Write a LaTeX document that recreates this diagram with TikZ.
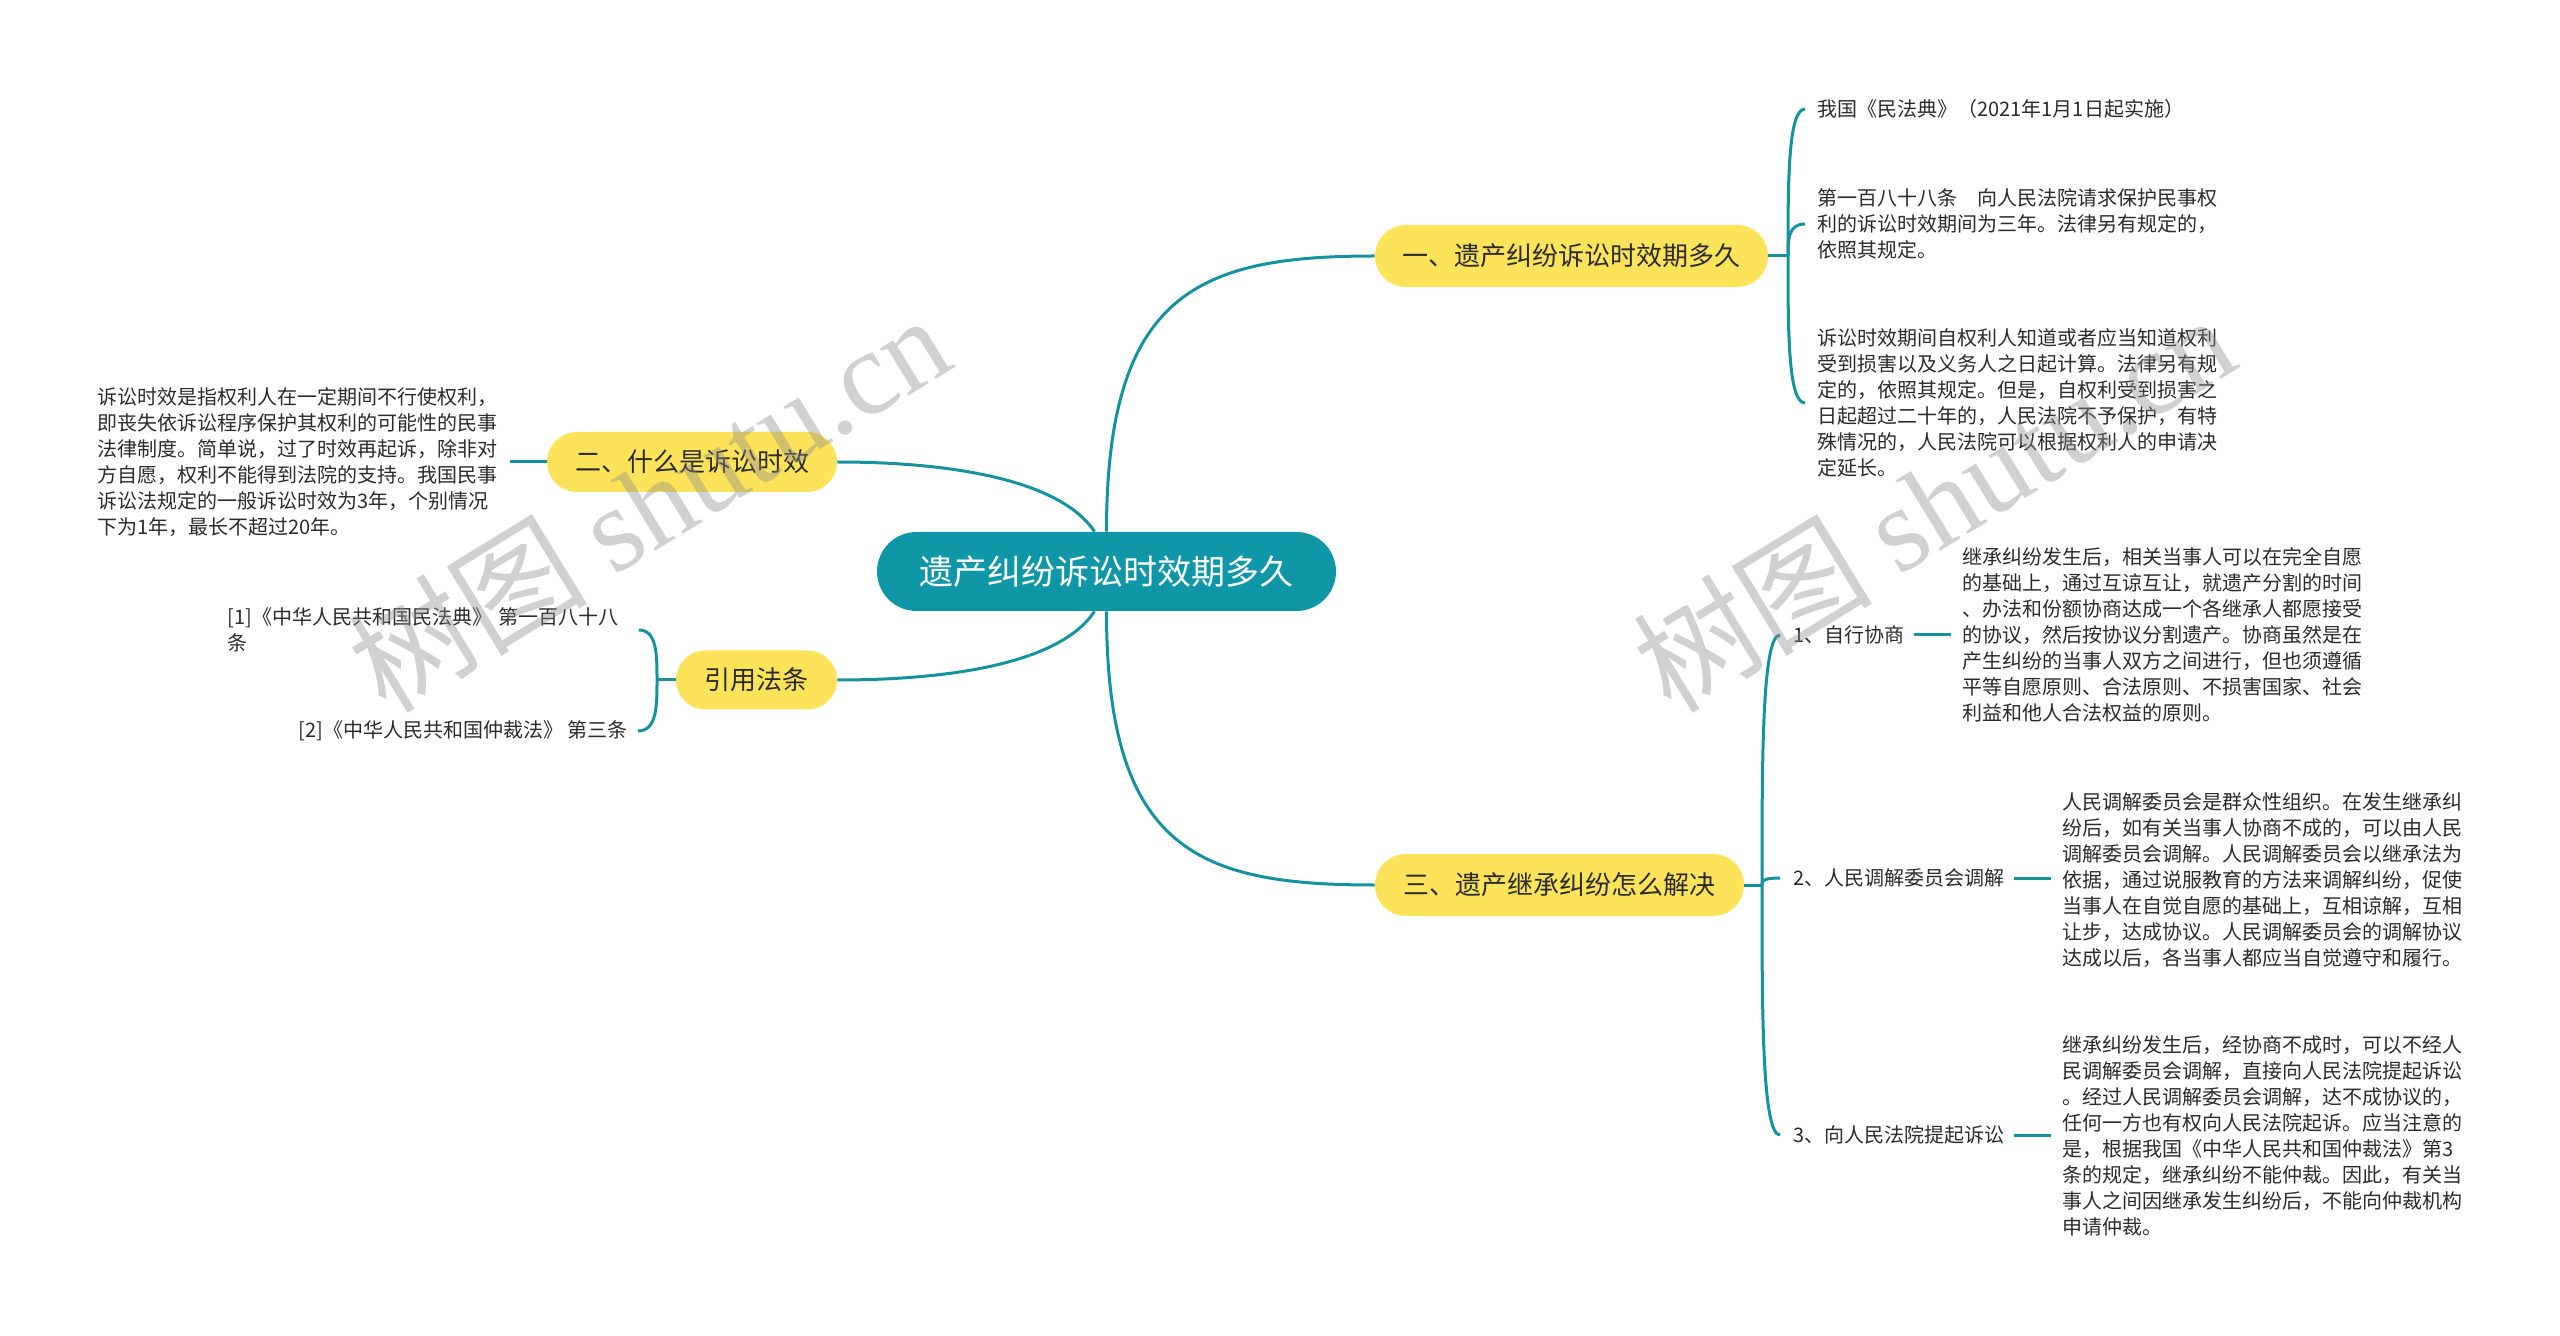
\documentclass[tikz,border=0pt]{standalone}
\usepackage{fontspec}
\setmainfont{Noto Sans CJK SC}
\newfontfamily\wmserif{Liberation Serif}
\usetikzlibrary{calc,shapes.misc}
\definecolor{tealc}{HTML}{0F97A7}
\definecolor{linec}{HTML}{16929F}
\definecolor{yelc}{HTML}{FDE35A}
\definecolor{txtc}{HTML}{2B2B2B}
\definecolor{wmc}{HTML}{8C8C8C}
\begin{document}
\begin{tikzpicture}[x=0.5pt,y=-0.5pt,
  conn/.style={draw=linec,line width=1.5pt},
  brk/.style={to path={.. controls ($(\tikztostart)!0.5!(\tikztostart |- \tikztotarget)$) and (\tikztostart |- \tikztotarget) .. ($(\tikztotarget)+(#1,0)$)}},
  rootbox/.style={rounded rectangle,fill=tealc,text=white,minimum width=229.5pt,minimum height=39.5pt,inner sep=0pt,font=\fontsize{17pt}{20pt}\selectfont},
  topic/.style={rounded rectangle,fill=yelc,text=txtc,minimum height=31pt,inner sep=0pt,font=\fontsize{13pt}{15pt}\selectfont},
  leaf/.style={text=txtc,align=left,inner sep=0pt,font=\fontsize{10pt}{13pt}\selectfont},
  wm/.style={text=wmc,text opacity=0.4,inner sep=0pt,font=\fontsize{60pt}{64pt}\selectfont}
]
\useasboundingbox (0,0) rectangle (2560,1336);
\fill[white] (0,0) rectangle (2560,1336);

% central and main topics
\node[rootbox] (c) at (1106.5,571.5) {遗产纠纷诉讼时效期多久};
\node[topic,minimum width=196.5pt] (n1) at (1571.5,256) {一、遗产纠纷诉讼时效期多久};
\node[topic,minimum width=184.5pt] (n3) at (1559.5,885) {三、遗产继承纠纷怎么解决};
\node[topic,minimum width=145pt,minimum height=30pt] (n2) at (692,462) {二、什么是诉讼时效};
\node[topic,minimum width=80.5pt,minimum height=29.5pt] (n4) at (756.5,680) {引用法条};

\draw[conn] (c.north) .. controls +(0,-240) and +(-175,0) .. (n1.west);
\draw[conn] (c.south) .. controls +(0,240) and +(-175,0) .. (n3.west);
\draw[conn] ($(c.north)+(-12,0)$) .. controls +(-34.5,-52) and +(113,0) .. (n2.east);
\draw[conn] ($(c.south)+(-12,0)$) .. controls +(-34.5,52) and +(113,0) .. (n4.east);

% children of topic 1
\node[leaf,anchor=west] (a1) at (1817,109) {我国《民法典》（2021年1月1日起实施）};
\node[leaf,anchor=west] (a2) at (1817,224) {第一百八十八条　向人民法院请求保护民事权\\利的诉讼时效期间为三年。法律另有规定的，\\依照其规定。};
\node[leaf,anchor=west] (a3) at (1817,403) {诉讼时效期间自权利人知道或者应当知道权利\\受到损害以及义务人之日起计算。法律另有规\\定的，依照其规定。但是，自权利受到损害之\\日起超过二十年的，人民法院不予保护，有特\\殊情况的，人民法院可以根据权利人的申请决\\定延长。};
\coordinate (b1) at (1788,256);
\draw[conn] (n1.east) -- (b1);
\draw[conn] (b1) to[brk=-12] (a1.west);
\draw[conn] (b1) to[brk=-12] (a2.west);
\draw[conn] (b1) to[brk=-12] (a3.west);

% children of topic 3
\node[leaf,anchor=west] (l1) at (1793,635) {1、自行协商};
\node[leaf,anchor=west] (l2) at (1793,878) {2、人民调解委员会调解};
\node[leaf,anchor=west] (l3) at (1793,1135) {3、向人民法院提起诉讼};
\coordinate (b3) at (1762,885);
\draw[conn] (n3.east) -- (b3);
\draw[conn] (b3) to[brk=-13] (l1.west);
\draw[conn] (b3) to[brk=-13] (l2.west);
\draw[conn] (b3) to[brk=-13] (l3.west);

\node[leaf,anchor=west] (d1) at (1962,635) {继承纠纷发生后，相关当事人可以在完全自愿\\的基础上，通过互谅互让，就遗产分割的时间\\、办法和份额协商达成一个各继承人都愿接受\\的协议，然后按协议分割遗产。协商虽然是在\\产生纠纷的当事人双方之间进行，但也须遵循\\平等自愿原则、合法原则、不损害国家、社会\\利益和他人合法权益的原则。};
\node[leaf,anchor=west] (d2) at (2062,880) {人民调解委员会是群众性组织。在发生继承纠\\纷后，如有关当事人协商不成的，可以由人民\\调解委员会调解。人民调解委员会以继承法为\\依据，通过说服教育的方法来调解纠纷，促使\\当事人在自觉自愿的基础上，互相谅解，互相\\让步，达成协议。人民调解委员会的调解协议\\达成以后，各当事人都应当自觉遵守和履行。};
\node[leaf,anchor=west] (d3) at (2062,1136) {继承纠纷发生后，经协商不成时，可以不经人\\民调解委员会调解，直接向人民法院提起诉讼\\。经过人民调解委员会调解，达不成协议的，\\任何一方也有权向人民法院起诉。应当注意的\\是，根据我国《中华人民共和国仲裁法》第3\\条的规定，继承纠纷不能仲裁。因此，有关当\\事人之间因继承发生纠纷后，不能向仲裁机构\\申请仲裁。};
\draw[conn,shorten <=4.5pt,shorten >=5.5pt] (l1.east) -- (l1.east -| d1.west);
\draw[conn,shorten <=4.5pt,shorten >=5.5pt] (l2.east) -- (l2.east -| d2.west);
\draw[conn,shorten <=4.5pt,shorten >=5.5pt] (l3.east) -- (l3.east -| d3.west);

% topic 2 child
\node[leaf,anchor=west] (e1) at (97,462) {诉讼时效是指权利人在一定期间不行使权利，\\即丧失依诉讼程序保护其权利的可能性的民事\\法律制度。简单说，过了时效再起诉，除非对\\方自愿，权利不能得到法院的支持。我国民事\\诉讼法规定的一般诉讼时效为3年，个别情况\\下为1年，最长不超过20年。};
\draw[conn,shorten <=6pt] (e1.east) -- (n2.west);

% citations
\node[leaf,anchor=west,text width=200.5pt] (r1) at (227,630) {[1]《中华人民共和国民法典》 第一百八十八\\条};
\node[leaf,anchor=east] (r2) at (628,731) {[2]《中华人民共和国仲裁法》 第三条};
\coordinate (b4) at (657,680);
\draw[conn] (n4.west) -- (b4);
\draw[conn] (b4) to[brk=10] (r1.east);
\draw[conn] (b4) to[brk=10] (r2.east);

% watermarks
\node[wm,rotate=31.5] (w1) at (648,502) {树图 {\wmserif shutu.cn}};
\node[wm,rotate=31.5] (w2) at (1933,502) {树图 {\wmserif shutu.cn}};
\end{tikzpicture}
\end{document}
